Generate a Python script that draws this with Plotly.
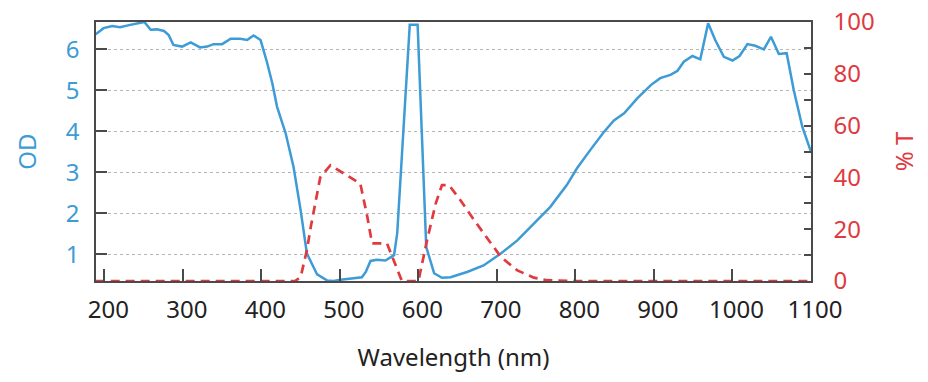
import plotly.graph_objects as go

# Optical density (left axis)
od_wavelength = [189, 199, 210, 220, 233, 246, 251, 259, 267, 276, 282, 288, 299, 310, 322, 331,
                 339, 350, 361, 373, 382, 390, 399, 407, 414, 420, 431, 441, 450, 458, 471, 484,
                 492, 501, 513, 528, 533, 539, 547, 558, 569, 573, 589, 599, 610, 620, 630, 641,
                 662, 683, 705, 726, 747, 768, 789, 802, 819, 836, 849, 862, 879, 896, 908, 921,
                 930, 938, 949, 959, 969, 978, 989, 1000, 1009, 1019, 1029, 1040, 1049, 1059,
                 1069, 1078, 1089, 1100]
od_values = [6.37, 6.52, 6.57, 6.54, 6.60, 6.66, 6.67, 6.48, 6.49, 6.45, 6.35, 6.11, 6.07, 6.17, 6.05, 6.07,
             6.13, 6.13, 6.26, 6.26, 6.23, 6.34, 6.23, 5.70, 5.17, 4.60, 3.95, 3.13, 2.08, 1.02, 0.51, 0.36,
             0.35, 0.38, 0.40, 0.44, 0.57, 0.84, 0.87, 0.85, 0.98, 1.51, 6.60, 6.60, 1.18, 0.54, 0.43, 0.44,
             0.57, 0.73, 1.02, 1.34, 1.75, 2.16, 2.69, 3.10, 3.55, 3.98, 4.27, 4.44, 4.81, 5.13, 5.30, 5.38,
             5.48, 5.70, 5.84, 5.76, 6.64, 6.23, 5.82, 5.73, 5.84, 6.13, 6.09, 6.00, 6.31, 5.89,
             5.91, 5.01, 4.11, 3.50]

# Transmission % (right axis)
t_wavelength = [189, 300, 400, 443, 450, 458, 463, 469, 475, 488, 505, 526, 535, 541, 560, 570, 579,
                600, 611, 622, 630, 639, 654, 671, 688, 705, 726, 747, 764, 800, 900, 1000, 1100]
t_values = [0, 0, 0, 0, 1.5, 11.9, 21, 31, 40, 44.7, 41.5, 37.6, 24.7, 14.5, 14.5, 7, 0,
            0, 15.7, 29.9, 37, 37, 31, 23.5, 16.4, 9.3, 4.1, 1.3, 0.3, 0, 0, 0, 0]

x_ticks = [200, 300, 400, 500, 600, 700, 800, 900, 1000, 1100]

BLUE = "#3d9bd6"
RED = "#e03a3e"
AXIS = "#4a4a4a"
FONT = "Noto Sans"

fig = go.Figure()
fig.add_trace(go.Scatter(x=od_wavelength, y=od_values, mode="lines", name="OD",
                         line=dict(color=BLUE, width=2.5), yaxis="y"))
fig.add_trace(go.Scatter(x=t_wavelength, y=t_values, mode="lines", name="% T",
                         line=dict(color=RED, width=2.7, dash="9px,6px"), yaxis="y2"))

fig.update_layout(
    width=928, height=382,
    margin=dict(l=96, r=117, t=22, b=101),
    paper_bgcolor="white", plot_bgcolor="white",
    showlegend=False,
    font=dict(family=FONT, size=24, color="#222222"),
    xaxis=dict(
        range=[189.4, 1100], tickvals=x_ticks, ticktext=[str(v) for v in x_ticks],
        ticks="inside", ticklen=12, tickwidth=1.5, tickcolor=AXIS,
        showline=True, linecolor=AXIS, linewidth=1.5, mirror=True,
        showgrid=False, zeroline=False, automargin=False,
        tickfont=dict(family=FONT, size=24, color="#222222"),
        ticklabelstandoff=6, ticklabelshift=4, ticklabeloverflow="allow",
        title=dict(text="Wavelength (nm)", font=dict(family=FONT, size=24, color="#222222"), standoff=26),
    ),
    yaxis=dict(
        range=[0.35, 6.67], tick0=1, dtick=1,
        ticks="inside", ticklen=11, tickwidth=1.5, tickcolor=AXIS,
        showline=True, linecolor=AXIS, linewidth=1.5, mirror=True,
        showgrid=True, gridcolor="#b5b5b5", griddash="dot", gridwidth=1, zeroline=False,
        automargin=False, ticklabeloverflow="allow",
        tickfont=dict(family=FONT, size=24, color=BLUE),
        ticklabelstandoff=10,
        title=dict(text="OD", font=dict(family=FONT, size=24, color=BLUE), standoff=22),
    ),
    yaxis2=dict(
        overlaying="y", side="right", range=[0, 100], tick0=0, dtick=20,
        ticks="inside", ticklen=7, tickwidth=1.5, tickcolor=AXIS,
        minor=dict(dtick=10, ticks="inside", ticklen=7, tickwidth=1.5, tickcolor=AXIS, showgrid=False),
        showline=True, linecolor=AXIS, linewidth=1.5,
        showgrid=False, zeroline=False, automargin=False, ticklabeloverflow="allow",
        tickfont=dict(family=FONT, size=24, color=RED),
        ticklabelstandoff=16,
        title=dict(text="% T", font=dict(family=FONT, size=24, color=RED), standoff=22),
    ),
)

fig.write_html("out.html", config={"displayModeBar": False},
               post_script="document.body.style.margin='0';")
